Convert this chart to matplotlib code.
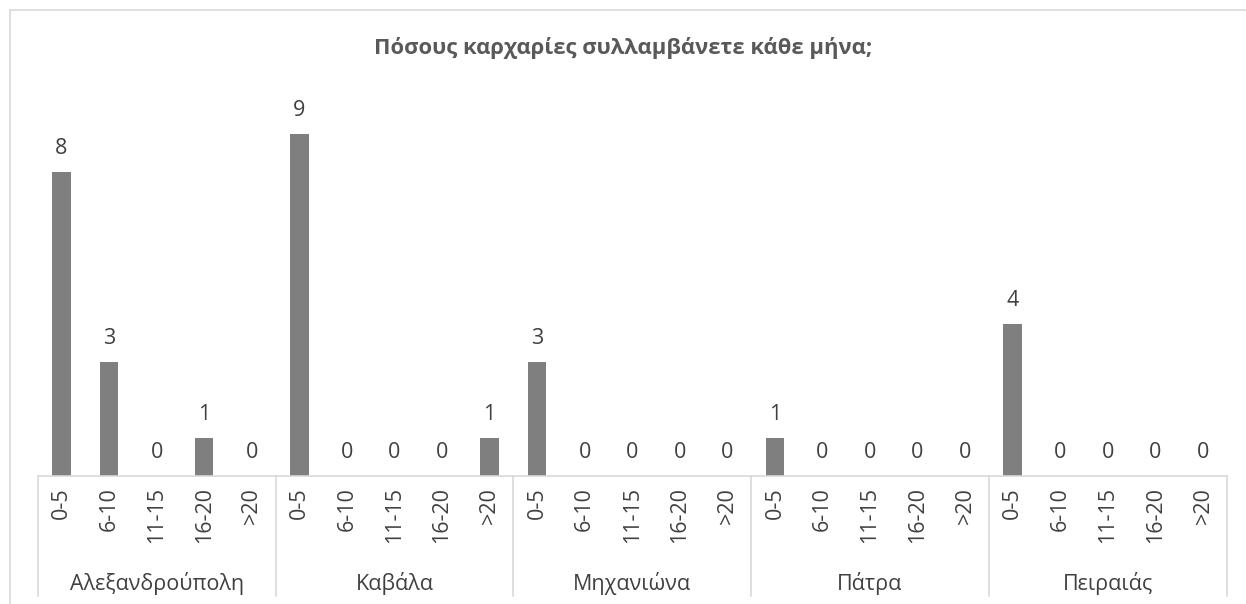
import matplotlib.pyplot as plt
from matplotlib.lines import Line2D
import numpy as np

plt.rcParams['font.family'] = ['Open Sans', 'DejaVu Sans']

title = 'Πόσους καρχαρίες συλλαμβάνετε κάθε μήνα;'
cities = ['Αλεξανδρούπολη', 'Καβάλα', 'Μηχανιώνα', 'Πάτρα', 'Πειραιάς']
ranges = ['0-5', '6-10', '11-15', '16-20', '>20']
alexandroupoli = [8, 3, 0, 1, 0]
kavala = [9, 0, 0, 0, 1]
michaniona = [3, 0, 0, 0, 0]
patra = [1, 0, 0, 0, 0]
peiraias = [4, 0, 0, 0, 0]

values = alexandroupoli + kavala + michaniona + patra + peiraias
labels = ranges * len(cities)

W, H = 1246, 604
fig = plt.figure(figsize=(W / 100, H / 100), dpi=100)
ax = fig.add_axes([37.7 / W, 1 - 476 / H, (1226.7 - 37.7) / W, 380 / H])

x = np.arange(len(values))
ax.bar(x, values, width=0.39, color='#7f7f7f')
ax.set_xlim(-0.5, len(values) - 0.5)
ax.set_ylim(0, 10)
ax.set_xticks([])
ax.set_yticks([])
for s in ['top', 'left', 'right']:
    ax.spines[s].set_visible(False)
ax.spines['bottom'].set_color('#d9d9d9')
ax.spines['bottom'].set_linewidth(1.2)

txt = '#404040'
for xi, v in zip(x, values):
    ax.text(xi, v + 0.62, str(v), ha='center', va='center', fontsize=15.5, color=txt)

trans = ax.get_xaxis_transform()
for xi, lab in zip(x, labels):
    ax.text(xi, -0.03, lab, rotation=90, ha='center', va='top', fontsize=15.5,
            color=txt, transform=trans)

n = len(ranges)
for g, city in enumerate(cities):
    ax.text(g * n + (n - 1) / 2, -0.282, city, ha='center', va='center',
            fontsize=15.5, color=txt, transform=trans)
for g in range(len(cities) + 1):
    ax.plot([g * n - 0.5] * 2, [0, -0.316], color='#d9d9d9', lw=1.2,
            transform=trans, clip_on=False)

fig.text(0.5, 1 - 48 / H, title, ha='center', va='center', fontsize=15.8,
         fontweight='bold', color='#595959')

# chart border
fig.add_artist(Line2D([10 / W, 10 / W], [0, 1 - 9.5 / H], color='#d9d9d9', lw=1.2))
fig.add_artist(Line2D([10 / W, 1], [1 - 9.5 / H, 1 - 9.5 / H], color='#d9d9d9', lw=1.2))

fig.savefig('out.png', dpi=100, facecolor='white')
